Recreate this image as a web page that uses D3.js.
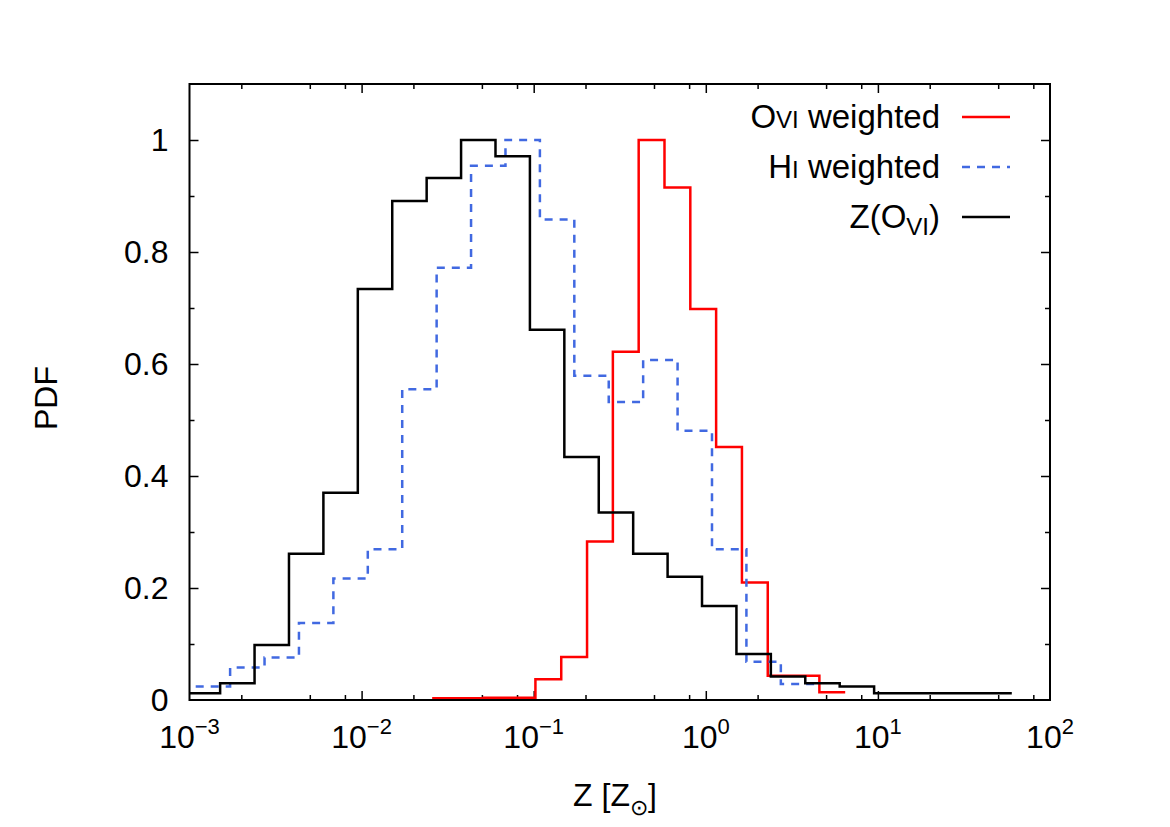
<!DOCTYPE html>
<html>
<head>
<meta charset="utf-8">
<style>
    body { margin: 0; background: #fff; }
    svg { font-family: 'Liberation Sans', Arial, sans-serif; }
    .axis .domain { display: none; }
    .axis .tick line { stroke: #000; stroke-width: 1.5px; }
    .lbl { font-size: 32px; fill: #000; }
    .leg { font-size: 33px; fill: #000; }
</style>
</head>
<body>
<svg width="1170" height="827"></svg>
<script src="https://d3js.org/d3.v7.min.js"></script>
<script>
    // bin edges are log10(Z / Zsun)
    let blackEdges = [-3.022, -2.822, -2.622, -2.422, -2.222, -2.022, -1.822, -1.622, -1.422, -1.222,
        -1.022, -0.822, -0.622, -0.422, -0.222, -0.022, 0.178, 0.378, 0.578, 0.778,
        0.978, 1.178, 1.378, 1.578, 1.778]
    let blackPdf = [0.012, 0.030, 0.098, 0.261, 0.370, 0.734, 0.891, 0.932, 1.0, 0.971,
        0.661, 0.434, 0.335, 0.261, 0.220, 0.168, 0.082, 0.042, 0.030, 0.024,
        0.012, 0.012, 0.012, 0.012]

    let blueEdges = [-2.964, -2.764, -2.564, -2.364, -2.164, -1.964, -1.764, -1.564, -1.364, -1.164,
        -0.964, -0.764, -0.564, -0.364, -0.164, 0.036, 0.236, 0.436, 0.636]
    let bluePdf = [0.024, 0.058, 0.076, 0.1375, 0.217, 0.269, 0.555, 0.772, 0.954, 1.0,
        0.858, 0.579, 0.532, 0.607, 0.481, 0.269, 0.0685, 0.0286]

    let redEdges = [-1.59, -1.44, -1.29, -1.14, -0.99, -0.84, -0.69, -0.54, -0.39, -0.24,
        -0.09, 0.06, 0.21, 0.36, 0.51, 0.66, 0.81]
    let redPdf = [0.003, 0.003, 0.004, 0.004, 0.037, 0.077, 0.283, 0.622, 1.0, 0.915,
        0.698, 0.452, 0.210, 0.0435, 0.0435, 0.0137]

    let yTicks = [0, 0.2, 0.4, 0.6, 0.8, 1]
    let yMinor = [0.1, 0.3, 0.5, 0.7, 0.9]
    let xDecades = [-3, -2, -1, 0, 1, 2]
    let xMinorMult = [2, 5, 8]

    let margin = { top: 84, right: 120, bottom: 127, left: 189.5 }
    let width = 1170, height = 827

    let svg = d3.select("svg")

    let x = d3.scaleLog()
        .domain([1e-3, 1e2])
        .range([margin.left, width - margin.right])

    let y = d3.scaleLinear()
        .domain([0, 1.1])
        .range([height - margin.bottom, margin.top])

    let x0 = margin.left, x1 = width - margin.right
    let y0 = height - margin.bottom, y1 = margin.top

    let majorX = xDecades.map(d => Math.pow(10, d))
    let minorX = []
    xDecades.slice(0, -1).forEach(d => {
        xMinorMult.forEach(m => minorX.push(m * Math.pow(10, d)))
    })

    // ticks, drawn inward on all four sides
    function addAxis(gen, vals, size, tr) {
        svg.append("g")
            .attr("class", "axis")
            .attr("transform", tr)
            .call(gen.tickValues(vals).tickSize(size).tickFormat(""))
    }
    addAxis(d3.axisBottom(x), majorX.slice(1, -1), -9, `translate(0,${y0})`)
    addAxis(d3.axisBottom(x), minorX, -5, `translate(0,${y0})`)
    addAxis(d3.axisTop(x), majorX.slice(1, -1), -9, `translate(0,${y1})`)
    addAxis(d3.axisTop(x), minorX, -5, `translate(0,${y1})`)
    addAxis(d3.axisLeft(y), yTicks.slice(1), -9, `translate(${x0},0)`)
    addAxis(d3.axisLeft(y), yMinor, -5, `translate(${x0},0)`)
    addAxis(d3.axisRight(y), yTicks.slice(1), -9, `translate(${x1},0)`)
    addAxis(d3.axisRight(y), yMinor, -5, `translate(${x1},0)`)

    // tick labels
    svg.append("g").selectAll("text")
        .data(yTicks)
        .join("text")
        .attr("class", "lbl")
        .attr("x", x0 - 21)
        .attr("y", d => y(d) + 11)
        .attr("text-anchor", "end")
        .text(d => d)

    let xl = svg.append("g").selectAll("text")
        .data(xDecades)
        .join("text")
        .attr("class", "lbl")
        .attr("x", d => x(Math.pow(10, d)))
        .attr("y", y0 + 48)
        .attr("text-anchor", "middle")
    xl.append("tspan").text("10")
    xl.append("tspan")
        .attr("dy", -14)
        .attr("font-size", "22px")
        .text(d => String(d).replace("-", "\u2212"))

    // clip for histograms
    svg.append("clipPath").attr("id", "clip")
        .append("rect")
        .attr("x", x0).attr("y", y1)
        .attr("width", x1 - x0).attr("height", y0 - y1)

    let step = d3.line()
        .x(d => x(Math.pow(10, d[0])))
        .y(d => y(d[1]))
        .curve(d3.curveStepAfter)

    function pts(edges, vals) {
        let p = vals.map((v, i) => [edges[i], v])
        p.push([edges[edges.length - 1], vals[vals.length - 1]])
        return p
    }

    let series = [
        { edges: redEdges, vals: redPdf, color: "#ff0000", dash: null },
        { edges: blueEdges, vals: bluePdf, color: "#4169e1", dash: "8,7" },
        { edges: blackEdges, vals: blackPdf, color: "#000000", dash: null }
    ]

    svg.append("g")
        .attr("clip-path", "url(#clip)")
        .selectAll("path")
        .data(series)
        .join("path")
        .attr("d", d => step(pts(d.edges, d.vals)))
        .attr("fill", "none")
        .attr("stroke", d => d.color)
        .attr("stroke-width", 2.5)
        .attr("stroke-dasharray", d => d.dash)

    // frame
    svg.append("rect")
        .attr("x", x0).attr("y", y1)
        .attr("width", x1 - x0).attr("height", y0 - y1)
        .attr("fill", "none")
        .attr("stroke", "#000")
        .attr("stroke-width", 2)

    // legend
    let legY = [117, 167, 217]
    let legG = svg.append("g")
    series.forEach((s, i) => {
        legG.append("line")
            .attr("x1", 962).attr("x2", 1010)
            .attr("y1", legY[i]).attr("y2", legY[i])
            .attr("stroke", s.color)
            .attr("stroke-width", 2.5)
            .attr("stroke-dasharray", s.dash)
    })
    let t1 = legG.append("text").attr("class", "leg").attr("x", 940).attr("y", legY[0] + 11).attr("text-anchor", "end")
    t1.append("tspan").text("O")
    t1.append("tspan").attr("font-size", "24px").text("VI")
    t1.append("tspan").text(" weighted")
    let t2 = legG.append("text").attr("class", "leg").attr("x", 940).attr("y", legY[1] + 11).attr("text-anchor", "end")
    t2.append("tspan").text("H")
    t2.append("tspan").attr("font-size", "24px").text("I")
    t2.append("tspan").text(" weighted")
    let t3 = legG.append("text").attr("class", "leg").attr("x", 940).attr("y", legY[2] + 11).attr("text-anchor", "end")
    t3.append("tspan").text("Z(O")
    t3.append("tspan").attr("font-size", "24px").attr("dy", 7).text("VI")
    t3.append("tspan").attr("dy", -7).text(")")

    // axis titles
    svg.append("text")
        .attr("class", "lbl")
        .attr("transform", "translate(57,398) rotate(-90)")
        .attr("text-anchor", "middle")
        .text("PDF")

    let xt = svg.append("text")
        .attr("class", "lbl")
        .attr("x", 615).attr("y", 806)
        .attr("text-anchor", "middle")
    xt.append("tspan").text("Z [Z")
    xt.append("tspan").attr("font-size", "22px").attr("dy", 9).text("\u2299")
    xt.append("tspan").attr("dy", -9).text("]")
</script>
</body>
</html>
